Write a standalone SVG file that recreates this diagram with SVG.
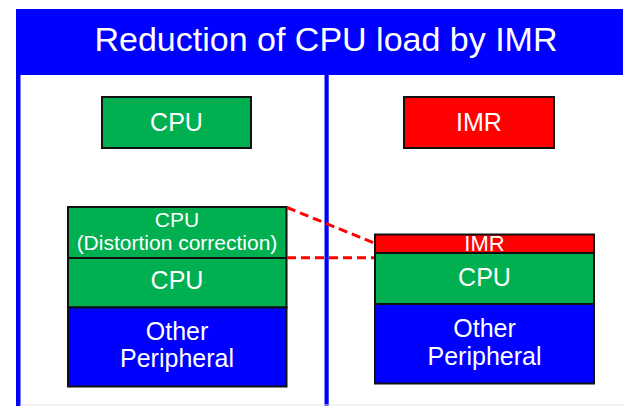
<svg xmlns="http://www.w3.org/2000/svg" width="623" height="406" viewBox="0 0 623 406">
  <style>
    .t { font-family: "Liberation Sans", Arial, sans-serif; fill: #ffffff; text-anchor: middle; }
    .box { stroke: #111111; stroke-width: 2; }
    .green { fill: #00B050; }
    .blue { fill: #0000FF; }
    .red { fill: #FF0000; }
    .dash { stroke: #FF0000; stroke-width: 3; stroke-dasharray: 9 5; fill: none; }
  </style>
  <rect x="0" y="0" width="623" height="406" fill="#ffffff"/>
  <g id="frame">
    <rect x="16" y="9" width="610" height="66" fill="#0000FF"/>
    <rect x="16" y="74" width="4.5" height="332" fill="#0000FF"/>
    <rect x="324.5" y="74" width="4.2" height="332" fill="#0000FF"/>
    <line x1="20.5" y1="405" x2="623" y2="405" stroke="#e4e4e4" stroke-width="1"/>
    <text class="t" x="326" y="51" font-size="34">Reduction of CPU load by IMR</text>
  </g>
  <g id="cpu-top">
    <rect class="box green" x="102" y="97" width="149" height="51"/>
    <text class="t" x="176.5" y="131" font-size="25">CPU</text>
  </g>
  <g id="imr-top">
    <rect class="box red" x="404" y="97" width="150" height="51"/>
    <text class="t" x="479" y="131" font-size="25">IMR</text>
  </g>
  <g id="left-stack">
    <g id="left-cpu-distortion">
      <rect class="box green" x="68" y="207" width="218.5" height="51"/>
      <text class="t" x="177" y="227.3" font-size="21">CPU</text>
      <text class="t" x="177" y="250" font-size="21">(Distortion correction)</text>
    </g>
    <g id="left-cpu">
      <rect class="box green" x="68" y="258" width="218.5" height="49.5"/>
      <text class="t" x="177" y="289" font-size="25">CPU</text>
    </g>
    <g id="left-other">
      <rect class="box blue" x="68" y="307.5" width="218.5" height="79"/>
      <text class="t" x="177" y="340" font-size="25">Other</text>
      <text class="t" x="177" y="367.3" font-size="25">Peripheral</text>
    </g>
  </g>
  <g id="right-stack">
    <g id="right-imr">
      <rect class="box red" x="375" y="234.5" width="219" height="18.5"/>
      <text class="t" x="484.5" y="251" font-size="22">IMR</text>
    </g>
    <g id="right-cpu">
      <rect class="box green" x="375" y="253" width="219" height="51"/>
      <text class="t" x="484.5" y="286" font-size="25">CPU</text>
    </g>
    <g id="right-other">
      <rect class="box blue" x="375" y="304" width="219" height="79.5"/>
      <text class="t" x="484.5" y="336.7" font-size="25">Other</text>
      <text class="t" x="484.5" y="365" font-size="25">Peripheral</text>
    </g>
  </g>
  <g id="connectors">
    <line class="dash" x1="287" y1="207.5" x2="374" y2="243"/>
    <line class="dash" x1="287" y1="257.7" x2="374" y2="257.7"/>
  </g>
</svg>
